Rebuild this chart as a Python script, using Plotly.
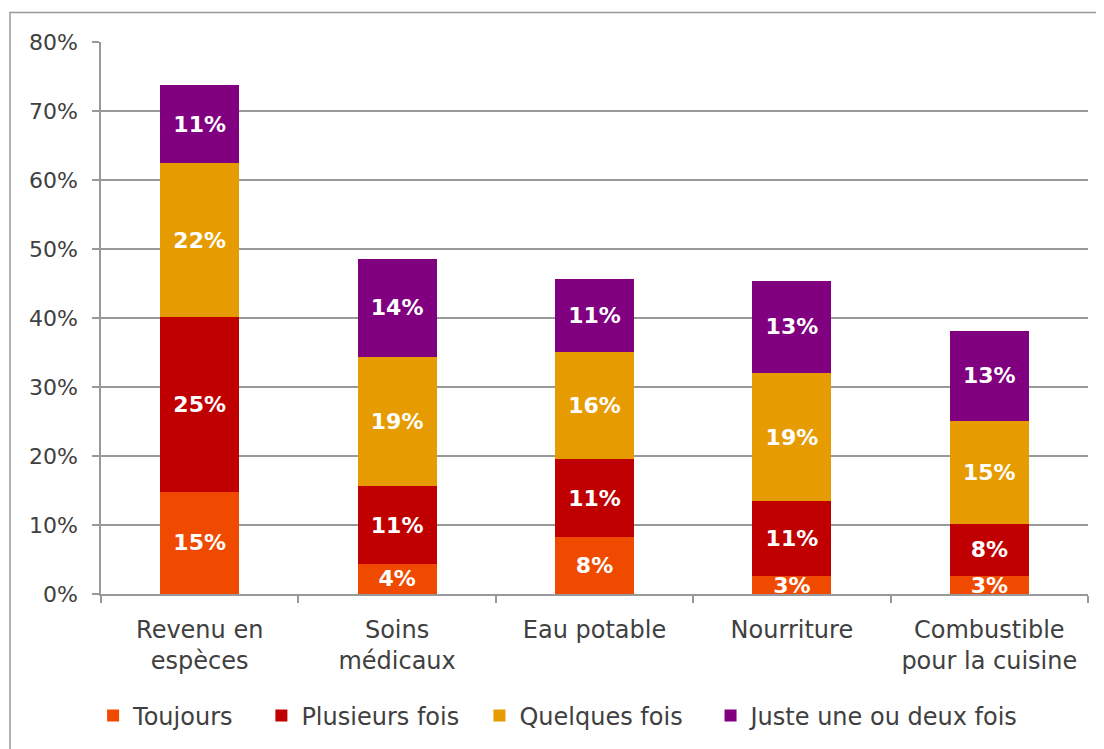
import plotly.graph_objects as go

# categories (x axis)
categories = [
    "Revenu en<br>espèces",
    "Soins<br>médicaux",
    "Eau potable",
    "Nourriture",
    "Combustible<br>pour la cuisine",
]

# stacked shares, in percent
toujours = [14.8, 4.4, 8.3, 2.6, 2.6]
plusieurs_fois = [25.4, 11.2, 11.2, 10.9, 7.6]
quelques_fois = [22.2, 18.8, 15.6, 18.5, 14.9]
juste_une_ou_deux = [11.3, 14.1, 10.6, 13.4, 13.0]

NB = "\u00a0"  # padding so legend entries spread like the original
series = [
    ("Toujours" + NB * 3, toujours, "#EF4A00"),
    ("Plusieurs fois" + NB * 2, plusieurs_fois, "#C00000"),
    ("Quelques fois" + NB * 3, quelques_fois, "#E69C00"),
    ("Juste une ou deux fois", juste_une_ou_deux, "#800080"),
]

FONT = "Century Gothic, DejaVu Sans, sans-serif"

fig = go.Figure()
for name, vals, color in series:
    fig.add_trace(
        go.Bar(
            x=categories,
            y=vals,
            name=name,
            marker=dict(color=color, line=dict(width=0)),
            texttemplate="%{y:.0f}%",
            textposition="inside",
            insidetextanchor="middle",
            textangle=0,
            textfont=dict(family=FONT, size=22, color="white", weight="bold"),
            cliponaxis=True,
            hoverinfo="skip",
        )
    )

# page body adds an 8px offset, margins compensate for it
fig.update_layout(
    barmode="stack",
    bargap=0.6,
    width=1104,
    height=749,
    margin=dict(l=93, r=24, t=34, b=163),
    plot_bgcolor="white",
    paper_bgcolor="white",
    font=dict(family=FONT, size=22, color="#404040"),
    uniformtext=dict(minsize=22, mode="show"),
    legend=dict(
        orientation="h",
        x=-0.008,
        xanchor="left",
        y=-0.221,
        yanchor="middle",
        font=dict(family=FONT, size=24, color="#404040"),
        itemwidth=30,
        traceorder="normal",
    ),
    shapes=[
        # outer chart frame (runs off the right and bottom edges)
        dict(type="rect", xref="paper", yref="paper",
             x0=-0.0922, x1=1.2, y0=-0.5, y1=1.0534,
             line=dict(color="#999999", width=1.5), layer="below"),
    ],
)

fig.update_yaxes(
    range=[0, 80],
    dtick=10,
    ticksuffix="%",
    showgrid=True,
    gridcolor="#999999",
    gridwidth=1.5,
    showline=True,
    linecolor="#999999",
    linewidth=1.5,
    ticks="outside",
    ticklen=7,
    tickcolor="#999999",
    tickwidth=1.5,
    ticklabelstandoff=10,
    zeroline=False,
    tickfont=dict(size=22, color="#404040"),
)
fig.update_xaxes(
    showline=True,
    linecolor="#999999",
    linewidth=1.5,
    ticks="outside",
    tickson="boundaries",
    ticklen=7,
    tickcolor="#999999",
    tickwidth=1.5,
    ticklabelstandoff=13,
    tickfont=dict(size=24, color="#404040"),
)

fig.write_html("out.html")
